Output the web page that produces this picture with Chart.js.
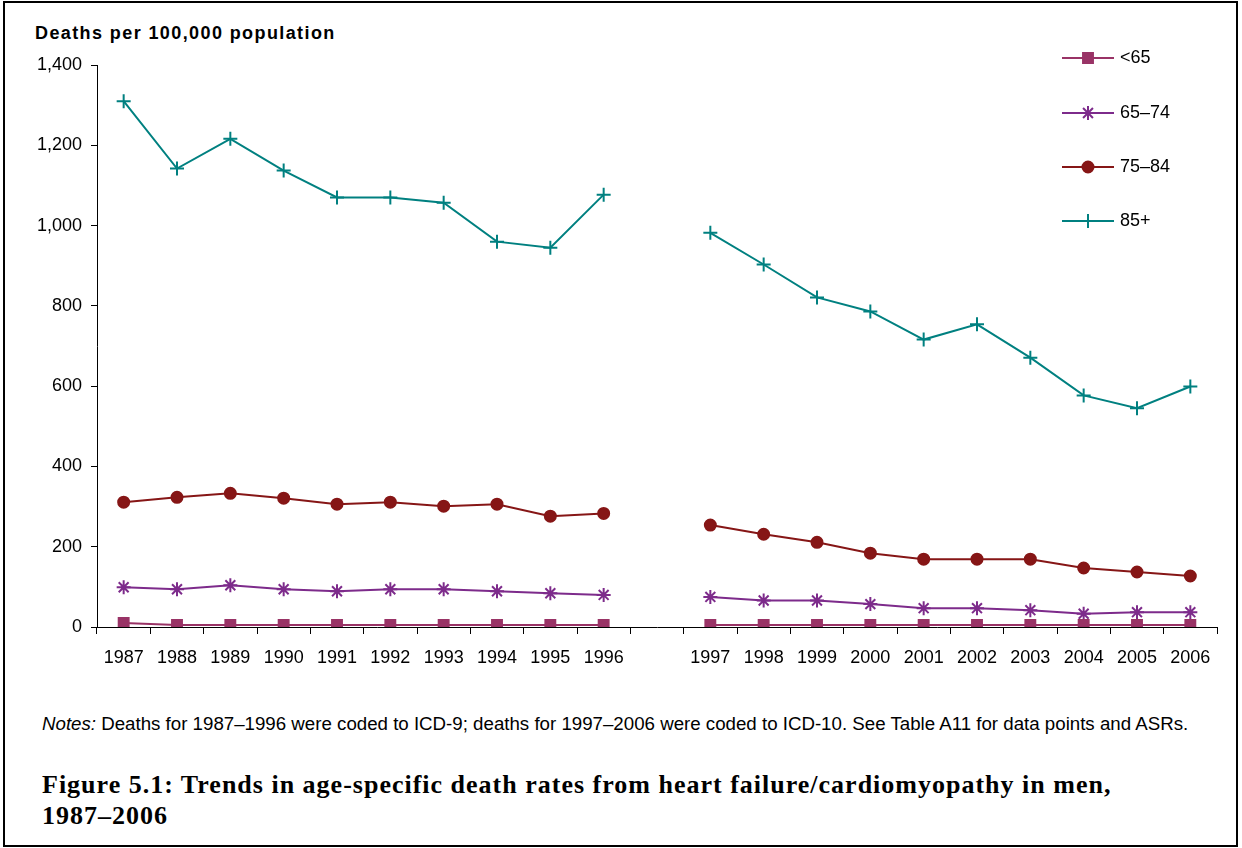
<!DOCTYPE html>
<html>
<head>
<meta charset="utf-8">
<script src="https://cdn.jsdelivr.net/npm/chart.js@4/dist/chart.umd.min.js"></script>
<style>
  body { margin: 0; background: #fff; }
  #frame { position: absolute; left: 3px; top: 1px; width: 1231px; height: 842px; border: 2px solid #000; }
  #wrap { position: absolute; left: 0; top: 0; width: 1242px; height: 690px; }
  #ylabel { position: absolute; left: 35px; top: 23px; font: bold 18px "Liberation Sans", Arial, sans-serif; letter-spacing: 1.4px; color: #000; }
  #notes { position: absolute; left: 42px; top: 713px; font: 18.7px "Liberation Sans", Arial, sans-serif; color: #000; white-space: nowrap; }
  #title { position: absolute; left: 42px; top: 769px; font: bold 26px "Liberation Serif", "Times New Roman", serif; letter-spacing: 1px; line-height: 31px; color: #000; white-space: nowrap; }
</style>
</head>
<body>
<div id="frame"></div>
<div id="ylabel">Deaths per 100,000 population</div>
<div id="wrap"><canvas id="myChart"></canvas></div>
<div id="notes"><i>Notes:</i> Deaths for 1987–1996 were coded to ICD-9; deaths for 1997–2006 were coded to ICD-10. See Table A11 for data points and ASRs.</div>
<div id="title">Figure 5.1: Trends in age-specific death rates from heart failure/cardiomyopathy in men,<br>1987–2006</div>
<script>
// years, with an empty slot between the ICD-9 and ICD-10 periods
const Years = ['1987', '1988', '1989', '1990', '1991', '1992', '1993', '1994', '1995', '1996', '',
  '1997', '1998', '1999', '2000', '2001', '2002', '2003', '2004', '2005', '2006']

const Under65 = [10, 5, 5, 5, 5, 5, 5, 5, 5, 5, null, 5, 5, 5, 5, 5, 5, 5, 5, 5, 5]
const Age65to74 = [99, 94, 104, 94, 89, 94, 94, 89, 84, 80, null, 75, 66, 66, 57, 47, 47, 42, 33, 37, 37]
const Age75to84 = [311, 323, 333, 321, 306, 311, 301, 306, 276, 283, null, 254, 231, 211, 184, 169, 169, 169, 147, 137, 127]
const Age85plus = [1310, 1142, 1216, 1137, 1070, 1070, 1057, 960, 945, 1077, null, 982, 903, 821, 786, 716, 754, 671, 577, 545, 599]

const SeriesNames = ['<65', '65–74', '75–84', '85+']
const YTicks = [0, 200, 400, 600, 800, 1000, 1200, 1400]

const FONT = '"Liberation Sans", Arial, sans-serif'

const makeSet = (label, data, color, style, radius) => ({
  label: label,
  data: data,
  borderColor: color,
  backgroundColor: color,
  borderWidth: 2,
  pointStyle: style,
  pointRadius: radius,
  pointHoverRadius: radius,
  pointBorderWidth: 2,
  spanGaps: false,
  tension: 0,
})

// legend drawn by hand so it can sit inside the plot, stacked at the top right
const sideLegend = {
  id: 'sideLegend',
  afterDraw(chart) {
    const ctx = chart.ctx
    const rows = [58, 113, 167, 221]
    chart.data.datasets.forEach((ds, i) => {
      const y = rows[i]
      ctx.save()
      ctx.strokeStyle = ds.borderColor
      ctx.fillStyle = ds.backgroundColor
      ctx.lineWidth = 2
      ctx.beginPath()
      ctx.moveTo(1062, y)
      ctx.lineTo(1114, y)
      ctx.stroke()
      Chart.helpers.drawPoint(ctx, {
        pointStyle: ds.pointStyle,
        radius: ds.pointRadius,
        borderWidth: 2,
        rotation: 0,
      }, 1088, y)
      ctx.fillStyle = '#000'
      ctx.font = '18px ' + FONT
      ctx.textBaseline = 'middle'
      ctx.fillText(ds.label, 1120, y)
      ctx.restore()
    })
  },
}

const ctx = document.getElementById('myChart').getContext('2d')
const myChart = new Chart(ctx, {
  type: 'line',
  data: {
    labels: Years,
    datasets: [
      makeSet(SeriesNames[0], Under65, '#993366', 'rect', 7),
      makeSet(SeriesNames[1], Age65to74, '#7D2B8B', 'star', 7),
      makeSet(SeriesNames[2], Age75to84, '#861616', 'circle', 5.5),
      makeSet(SeriesNames[3], Age85plus, '#008080', 'cross', 7),
    ],
  },
  options: {
    responsive: true,
    maintainAspectRatio: false,
    animation: false,
    layout: { padding: { top: 65, right: 25, left: 0, bottom: 0 } },
    plugins: {
      legend: { display: false },
      tooltip: { enabled: false },
    },
    scales: {
      x: {
        offset: true,
        grid: { offset: true, drawOnChartArea: false, drawTicks: true, tickLength: 7, color: '#000' },
        border: { display: true, color: '#000', width: 1 },
        ticks: { color: '#000', font: { family: FONT, size: 18 }, padding: 13, autoSkip: false, maxRotation: 0 },
        afterFit: (scale) => { scale.height = 63 },
      },
      y: {
        min: 0,
        max: 1400,
        afterBuildTicks: (scale) => { scale.ticks = YTicks.map(v => ({ value: v })) },
        grid: { drawOnChartArea: false, drawTicks: true, tickLength: 6, color: '#000' },
        border: { display: true, color: '#000', width: 1 },
        ticks: {
          color: '#000',
          font: { family: FONT, size: 18 },
          padding: 9,
          callback: (v) => Number(v).toLocaleString('en-US'),
        },
        afterFit: (scale) => { scale.width = 97 },
      },
    },
  },
  plugins: [sideLegend],
})
</script>
</body>
</html>
